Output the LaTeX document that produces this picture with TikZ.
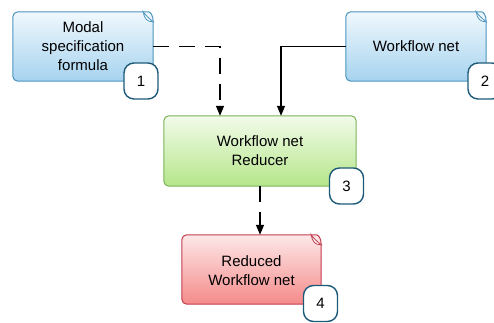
\documentclass[tikz,border=0pt]{standalone}
\usepackage{fontspec}
\setmainfont{Liberation Sans}
\usetikzlibrary{arrows.meta,calc}
\definecolor{bluetop}{HTML}{F0F8FD}
\definecolor{bluebot}{HTML}{A6D3EF}
\definecolor{blueline}{HTML}{4B94BD}
\definecolor{greentop}{HTML}{F2FBEA}
\definecolor{greenbot}{HTML}{B5E68A}
\definecolor{greenline}{HTML}{7AB35A}
\definecolor{redtop}{HTML}{FDE8E8}
\definecolor{redbot}{HTML}{F58A8A}
\definecolor{redline}{HTML}{C23B4E}
\definecolor{badgeline}{HTML}{1D5A78}
\newcommand\foldnote[4]{%
  \path[draw=#4, line width=1pt, top color=#2, bottom color=#3]
    ($(#1.north east)+(0,10)$) [rounded corners=5pt] -- (#1.south east) -- (#1.south west)
    -- (#1.north west) -- ($(#1.north east)+(-10,0)$) [sharp corners]
    .. controls ($(#1.north east)+(-3,0)$) and ($(#1.north east)+(0,3)$) .. cycle;
  \draw[#4, line width=0.8pt, fill=white]
    ($(#1.north east)+(-10,0)$) .. controls ($(#1.north east)+(-9,7)$) and ($(#1.north east)+(-6,10)$) .. ($(#1.north east)+(0,10)$)
    .. controls ($(#1.north east)+(-5,6)$) and ($(#1.north east)+(-8,3)$) .. cycle;
}
\tikzset{
  txt/.style={inner sep=0pt, align=center, font=\fontsize{15}{19}\selectfont},
  badge/.style={draw=badgeline, line width=1.4pt, fill=white, rounded corners=10pt,
    minimum width=34pt, minimum height=36pt, inner sep=0pt, font=\fontsize{15}{18}\selectfont},
  conn/.style={line width=1.5pt, -{Triangle[width=8pt,length=10pt]}},
  dashconn/.style={conn, dash pattern=on 16pt off 10pt},
}
\begin{document}
\begin{tikzpicture}[x=1pt,y=-1pt]
\useasboundingbox (0,0) rectangle (494,323);
\node[txt, minimum width=140pt, minimum height=69pt] (m) at (83,46.5) {};
\node[txt, minimum width=140pt, minimum height=69pt] (w) at (416,46.5) {};
\node[txt, minimum width=192pt, minimum height=70pt] (r) at (260,151) {};
\node[txt, minimum width=139pt, minimum height=69pt] (d) at (251.5,269.5) {};
\foldnote{m}{bluetop}{bluebot}{blueline}
\foldnote{w}{bluetop}{bluebot}{blueline}
\path[draw=greenline, line width=1pt, top color=greentop, bottom color=greenbot, rounded corners=5pt]
  (r.north west) rectangle (r.south east);
\foldnote{d}{redtop}{redbot}{redline}
\node[txt] at (m.center) {Modal\\specification\\formula};
\node[txt] at (w.center) {Workflow net};
\node[txt] at (r.center) {Workflow net\\Reducer};
\node[txt] at ([yshift=-1]d.center) {Reduced\\Workflow net};
\node[badge] (b1) at (141,81) {1};
\node[badge] (b2) at (485,81) {2};
\node[badge] (b3) at (346.5,186) {3};
\node[badge] (b4) at (320.5,303.5) {4};
\draw[dashconn] (m.east) -| ([xshift=-40pt]r.north);
\draw[conn] (w.west) -| ([xshift=21pt]r.north);
\draw[dashconn] (r.south) -- (r.south |- d.north);
\end{tikzpicture}
\end{document}
